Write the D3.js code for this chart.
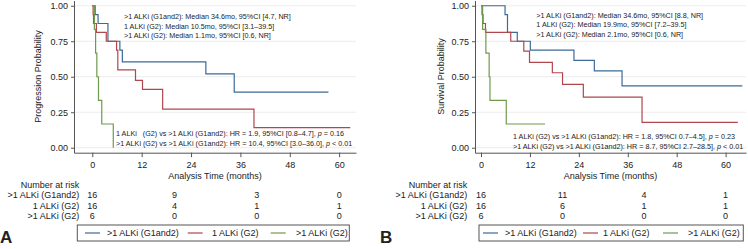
<!DOCTYPE html>
<html>
<head>
<meta charset="utf-8">
<script src="https://cdn.jsdelivr.net/npm/d3@7/dist/d3.min.js"></script>
<style>
body { margin: 0; background: #fff; }
svg text { font-family: "Liberation Sans", Arial, sans-serif; fill: #222; }
</style>
</head>
<body>
<script>
// shared
var timeTicks = [0, 12, 24, 36, 48, 60];
var probTicks = [0, 0.25, 0.5, 0.75, 1];
var riskTimes = [0, 20, 40, 60];
var groups = [">1 ALKi (G1and2)", "1 ALKi (G2)", ">1 ALKi (G2)"];
var colors = ["#3d6a98", "#b0464e", "#6e9a4c"];

// panel A - progression
var aTimeG12 = [0, 0.7, 1.4, 3.8, 6.7, 7.3, 27.6, 34.5, 57.4];
var aSurvG12 = [1, 0.9375, 0.875, 0.75, 0.6875, 0.605, 0.52, 0.392, 0.392];
var aTime1G2 = [0, 0.2, 0.3, 1.0, 3.4, 5.9, 6.2, 10.5, 12.2, 17.1, 39.3, 62.7];
var aSurv1G2 = [1, 0.9375, 0.875, 0.8125, 0.75, 0.6875, 0.548, 0.474, 0.411, 0.272, 0.141, 0.141];
var aTimeG2 = [0, 0.5, 0.8, 1.1, 1.5, 2.3, 5.1];
var aSurvG2 = [1, 0.833, 0.667, 0.5, 0.333, 0.167, 0];
var aRisk = [[16, 9, 3, 0], [16, 4, 1, 1], [6, 0, 0, 0]];
var aMedians = [
  ">1 ALKi (G1and2): Median 34.6mo, 95%CI [4.7, NR]",
  "1 ALKi (G2): Median 10.5mo, 95%CI [3.1\u201339.5]",
  ">1 ALKi (G2): Median 1.1mo, 95%CI [0.6, NR]"
];
var aHR = [
  ["1 ALKi   (G2) vs >1 ALKi (G1and2): HR = 1.9, 95%CI [0.8\u20134.7], ", " = 0.16"],
  [">1 ALKi (G2) vs >1 ALKi (G1and2): HR = 10.4, 95%CI [3.0\u201336.0], ", " < 0.01"]
];

// panel B - survival
var bTimeG12 = [0, 5.9, 6.5, 8.9, 12.1, 22.8, 27.8, 34.6, 64.1];
var bSurvG12 = [1, 0.9375, 0.8125, 0.75, 0.6875, 0.615, 0.542, 0.435, 0.435];
var bTime1G2 = [0, 0.25, 0.5, 1.1, 7.3, 10.5, 11.9, 17.5, 20.0, 25.1, 39.5, 63.0];
var bSurv1G2 = [1, 0.9375, 0.875, 0.8125, 0.75, 0.68, 0.601, 0.528, 0.446, 0.357, 0.179, 0.179];
var bTimeG2 = [0, 0.4, 1.2, 2.0, 2.2, 6.2, 15.7];
var bSurvG2 = [1, 0.833, 0.667, 0.5, 0.333, 0.167, 0.167];
var bRisk = [[16, 11, 4, 1], [16, 6, 1, 1], [6, 0, 0, 0]];
var bMedians = [
  ">1 ALKi (G1and2): Median 34.6mo, 95%CI [8.8, NR]",
  "1 ALKi (G2): Median 19.9mo, 95%CI [7.2\u201339.5]",
  ">1 ALKi (G2): Median 2.1mo, 95%CI [0.6, NR]"
];
var bHR = [
  ["1 ALKi (G2) vs >1 ALKi (G1and2): HR = 1.8, 95%CI 0.7\u20134.5], ", " = 0.23"],
  [">1 ALKi (G2) vs >1 ALKi (G1and2): HR = 8.7, 95%CI 2.7\u201328.5], ", " < 0.01"]
];

var svg = d3.select("body").append("svg")
    .attr("width", 748).attr("height", 249);

function drawPanel(p) {
    var g = svg.append("g");
    var x = d3.scaleLinear().domain(p.xdom).range([p.left, p.right]);
    var y = d3.scaleLinear().domain([-0.035, 1.037]).range([152.7, 0.5]);

    // grid
    g.append("g").selectAll("line").data(probTicks).enter()
        .append("line")
        .attr("x1", p.left).attr("x2", p.right)
        .attr("y1", function(d) { return y(d); })
        .attr("y2", function(d) { return y(d); })
        .attr("stroke", "#ececec").attr("stroke-width", 1);

    var yAxis = g.append("g")
        .attr("transform", "translate(" + p.left + ",0)")
        .call(d3.axisLeft(y).tickValues(probTicks).tickFormat(d3.format(".2f"))
            .tickSize(3).tickSizeOuter(0).tickPadding(3));
    var xAxis = g.append("g")
        .attr("transform", "translate(0,152.7)")
        .call(d3.axisBottom(x).tickValues(timeTicks)
            .tickSize(4.5).tickSizeOuter(0).tickPadding(4.6));
    [yAxis, xAxis].forEach(function(ax) {
        ax.selectAll("path, line").attr("stroke", "#555");
        ax.selectAll("text").attr("font-size", 9).attr("fill", "#222")
            .style("font-family", "'Liberation Sans', Arial, sans-serif");
    });

    // curves
    var line = d3.line()
        .x(function(d) { return x(d[0]); })
        .y(function(d) { return y(d[1]); })
        .curve(d3.curveStepAfter);
    p.curves.forEach(function(c, i) {
        var pts = c[0].map(function(t, j) { return [t, c[1][j]]; });
        g.append("path").datum(pts)
            .attr("d", line)
            .attr("fill", "none")
            .attr("stroke", colors[i])
            .attr("stroke-width", 1.2);
    });

    // titles
    g.append("text")
        .attr("transform", "translate(" + p.ytitleX + ",76.6) rotate(-90)")
        .attr("text-anchor", "middle").attr("font-size", 9)
        .text(p.ytitle);
    g.append("text")
        .attr("x", (p.left + p.right) / 2).attr("y", 179.3)
        .attr("text-anchor", "middle").attr("font-size", 9)
        .text("Analysis Time (months)");

    // medians
    g.append("g").selectAll("text").data(p.medians).enter()
        .append("text")
        .attr("x", p.medX)
        .attr("y", function(d, i) { return p.medY + i * 9.3; })
        .attr("font-size", 7.2)
        .text(function(d) { return d; });

    // hazard ratios
    var hr = g.append("g").selectAll("text").data(p.hr).enter()
        .append("text")
        .attr("x", p.hrX)
        .attr("y", function(d, i) { return p.hrY + i * 9.6; })
        .attr("font-size", 7.2)
        .style("white-space", "pre");
    hr.append("tspan").text(function(d) { return d[0]; });
    hr.append("tspan").attr("font-style", "italic").text("p");
    hr.append("tspan").text(function(d) { return d[1]; });

    // number at risk
    g.append("text")
        .attr("x", p.riskX).attr("y", 188.3)
        .attr("text-anchor", "end").attr("font-size", 9)
        .text("Number at risk");
    p.risk.forEach(function(row, i) {
        var ry = 198.3 + i * 10.5;
        g.append("text")
            .attr("x", p.riskX).attr("y", ry)
            .attr("text-anchor", "end").attr("font-size", 9)
            .text(groups[i]);
        g.append("g").selectAll("text").data(row).enter()
            .append("text")
            .attr("x", function(d, j) { return x(riskTimes[j]); })
            .attr("y", ry)
            .attr("text-anchor", "middle").attr("font-size", 9)
            .text(function(d) { return d; });
    });

    // legend
    g.append("rect")
        .attr("x", p.legBox[0]).attr("y", 225)
        .attr("width", p.legBox[1] - p.legBox[0]).attr("height", 16)
        .attr("fill", "#fff").attr("stroke", "#555").attr("stroke-width", 1);
    groups.forEach(function(name, i) {
        g.append("line")
            .attr("x1", p.legKeys[i]).attr("x2", p.legKeys[i] + 15)
            .attr("y1", 233).attr("y2", 233)
            .attr("stroke", colors[i]).attr("stroke-width", 1.2);
        g.append("text")
            .attr("x", p.legText[i]).attr("y", 236.3)
            .attr("font-size", 9)
            .text(name);
    });

    // panel letter
    g.append("text")
        .attr("x", p.letterX).attr("y", 242.5)
        .attr("font-size", 17).attr("font-weight", "bold")
        .attr("fill", "#000")
        .text(p.letter);
}

drawPanel({
    left: 74, right: 356, xdom: [-4.45, 64.1],
    curves: [[aTimeG12, aSurvG12], [aTime1G2, aSurv1G2], [aTimeG2, aSurvG2]],
    ytitle: "Progression Probability", ytitleX: 41,
    medians: aMedians, medX: 124, medY: 19.3,
    hr: aHR, hrX: 116, hrY: 136,
    risk: aRisk, riskX: 79.3,
    legBox: [77.3, 349.3], legKeys: [85, 187.7, 270.7], legText: [107, 212, 296],
    letter: "A", letterX: 0
});

drawPanel({
    left: 475, right: 746, xdom: [-1.47, 65],
    curves: [[bTimeG12, bSurvG12], [bTime1G2, bSurv1G2], [bTimeG2, bSurvG2]],
    ytitle: "Survival Probability", ytitleX: 444,
    medians: bMedians, medX: 536.3, medY: 18,
    hr: bHR, hrX: 513, hrY: 139.3,
    risk: bRisk, riskX: 467.3,
    legBox: [479, 743.3], legKeys: [483, 583, 663], legText: [505, 603, 688],
    letter: "B", letterX: 380
});
</script>
</body>
</html>
